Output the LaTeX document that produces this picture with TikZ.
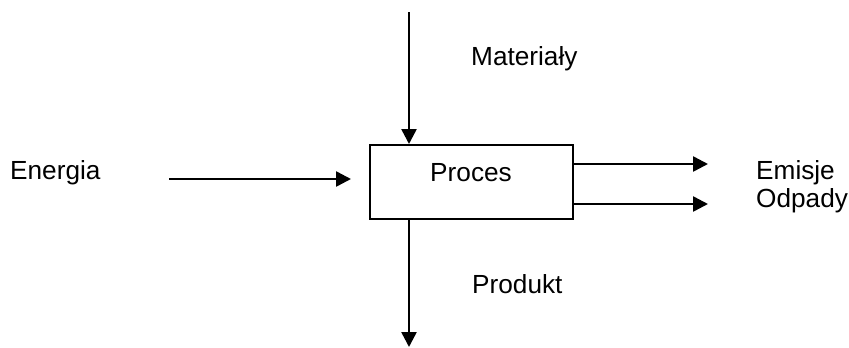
\documentclass[tikz,border=0pt]{standalone}
\usepackage{fontspec}
\setmainfont{Liberation Sans}
\usetikzlibrary{arrows.meta,positioning}

\tikzset{
  lbl/.style={inner sep=0pt, font=\fontsize{26.3}{29}\selectfont},
  flow/.style={line width=2.5bp, -{Triangle[length=15bp,width=15bp]}},
  procbox/.style={draw, line width=2bp, minimum width=203bp, minimum height=74bp, inner sep=0pt}
}

\begin{document}
\begin{tikzpicture}[x=1bp, y=-1bp]
  \useasboundingbox (0,0) rectangle (849,347);
  \node[procbox] (proc) at (471.5,182) {};
  \node[lbl, anchor=base] (proclbl) at (471,181) {Proces};
  \node[lbl, anchor=base west] (mat) at (471,65) {Materiały};
  \node[lbl, anchor=base west] (ener) at (10,179) {Energia};
  \node[lbl, anchor=base west] (emis) at (756,179) {Emisje};
  \node[lbl, anchor=base west] (odp) at (756,207) {Odpady};
  \node[lbl, anchor=base west] (prod) at (472,293) {Produkt};
  % free ends
  \coordinate (matin) at (409,12);
  \coordinate (prodout) at (409,347);
  \coordinate (enin) at (169,179);
  \coordinate (enout) at (351,179);
  \coordinate (emout) at (708,164);
  \coordinate (odout) at (708,204);
  \draw[flow] (matin) -- (matin |- proc.north);
  \draw[flow] (prodout |- proc.south) -- (prodout);
  \draw[flow] (enin) -- (enout);
  \draw[flow] (proc.east |- emout) -- (emout);
  \draw[flow] (proc.east |- odout) -- (odout);
\end{tikzpicture}
\end{document}
